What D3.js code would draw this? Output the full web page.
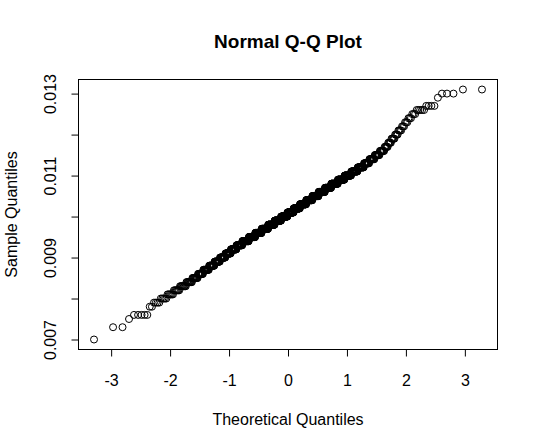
<!DOCTYPE html>
<html>
<head>
<meta charset="utf-8">
<script src="https://cdn.jsdelivr.net/npm/d3@7"></script>
<style>
  body { margin: 0; background: #fff; }
  text { font-family: "Liberation Sans", Arial, Helvetica, sans-serif; fill: #000; }
</style>
</head>
<body>
<svg id="chart" width="538" height="448"></svg>
<script>
// sorted sample values (rounded to 0.0001) and how many observations sit at each
const sampleValues = [
  0.0070, 0.0073, 0.0075, 0.0076, 0.0078, 0.0079, 0.0080, 0.0081, 0.0082, 0.0083,
  0.0084, 0.0085, 0.0086, 0.0087, 0.0088, 0.0089, 0.0090, 0.0091, 0.0092, 0.0093,
  0.0094, 0.0095, 0.0096, 0.0097, 0.0098, 0.0099, 0.0100, 0.0101, 0.0102, 0.0103,
  0.0104, 0.0105, 0.0106, 0.0107, 0.0108, 0.0109, 0.0110, 0.0111, 0.0112, 0.0113,
  0.0114, 0.0115, 0.0116, 0.0117, 0.0118, 0.0119, 0.0120, 0.0121, 0.0122, 0.0123,
  0.0124, 0.0125, 0.0126, 0.0127, 0.0129, 0.0130, 0.0131
];
const sampleCounts = [
  1, 2, 1, 5, 2, 4, 5, 6, 7, 9,
  10, 11, 12, 15, 16, 18, 20, 22, 25, 28,
  34, 36, 38, 41, 42, 43, 43, 42, 42, 41,
  39, 38, 36, 34, 33, 30, 27, 23, 20, 15,
  13, 11, 9, 6, 5, 5, 4, 4, 3, 3,
  3, 3, 5, 4, 1, 3, 2
];

const xTicks = [-3, -2, -1, 0, 1, 2, 3];
const yTicks = [0.007, 0.008, 0.009, 0.010, 0.011, 0.012, 0.013];
const yTickLabels = ["0.007", "", "0.009", "", "0.011", "", "0.013"];

const title = "Normal Q-Q Plot";
const xTitle = "Theoretical Quantiles";
const yTitle = "Sample Quantiles";

// inverse normal cdf (Acklam)
const qnorm = (p) => {
  const a = [-3.969683028665376e1, 2.209460984245205e2, -2.759285104469687e2,
    1.38357751867269e2, -3.066479806614716e1, 2.506628277459239];
  const b = [-5.447609879822406e1, 1.615858368580409e2, -1.556989798598866e2,
    6.680131188771972e1, -1.328068155288572e1];
  const c = [-7.784894002430293e-3, -3.223964580411365e-1, -2.400758277161838,
    -2.549732539343734, 4.374664141464968, 2.938163982698783];
  const d = [7.784695709041462e-3, 3.224671290700398e-1, 2.445134137142996,
    3.754408661907416];
  const plow = 0.02425;
  let q, r;
  if (p < plow) {
    q = Math.sqrt(-2 * Math.log(p));
    return (((((c[0] * q + c[1]) * q + c[2]) * q + c[3]) * q + c[4]) * q + c[5]) /
      ((((d[0] * q + d[1]) * q + d[2]) * q + d[3]) * q + 1);
  }
  if (p > 1 - plow) {
    q = Math.sqrt(-2 * Math.log(1 - p));
    return -(((((c[0] * q + c[1]) * q + c[2]) * q + c[3]) * q + c[4]) * q + c[5]) /
      ((((d[0] * q + d[1]) * q + d[2]) * q + d[3]) * q + 1);
  }
  q = p - 0.5;
  r = q * q;
  return (((((a[0] * r + a[1]) * r + a[2]) * r + a[3]) * r + a[4]) * r + a[5]) * q /
    (((((b[0] * r + b[1]) * r + b[2]) * r + b[3]) * r + b[4]) * r + 1);
};

const sample = [];
sampleValues.forEach((v, i) => {
  for (let k = 0; k < sampleCounts[i]; k++) sample.push(v);
});
const n = sample.length;
const points = sample.map((v, i) => ({ tq: qnorm((i + 1 - 0.5) / n), sq: v }));

// R style 4% padding
const pad = (ext) => {
  const s = (ext[1] - ext[0]) * 0.04;
  return [ext[0] - s, ext[1] + s];
};

const svg = d3.select("#chart");
const plotLeft = 78.5, plotRight = 497.5, plotTop = 79.5, plotBottom = 349.5;

const x = d3.scaleLinear()
  .domain(pad(d3.extent(points, (d) => d.tq)))
  .range([plotLeft, plotRight]);
const y = d3.scaleLinear()
  .domain(pad(d3.extent(points, (d) => d.sq)))
  .range([plotBottom, plotTop]);

svg.append("g")
  .selectAll("circle")
  .data(points)
  .enter()
  .append("circle")
  .attr("cx", (d) => x(d.tq))
  .attr("cy", (d) => y(d.sq))
  .attr("r", 3.5)
  .attr("fill", "none")
  .attr("stroke", "#000")
  .attr("stroke-width", 1);

svg.append("rect")
  .attr("x", plotLeft)
  .attr("y", plotTop)
  .attr("width", plotRight - plotLeft)
  .attr("height", plotBottom - plotTop)
  .attr("fill", "none")
  .attr("stroke", "#000")
  .attr("stroke-width", 1);

const xAxis = svg.append("g")
  .attr("transform", "translate(0," + plotBottom + ")")
  .call(d3.axisBottom(x).tickValues(xTicks).tickSize(7));
xAxis.select(".domain").remove();
xAxis.selectAll("text")
  .attr("y", 36.5)
  .attr("dy", null)
  .attr("font-size", 16)
  .text((d) => d < 0 ? "-" + Math.abs(d) : d);

const yAxis = svg.append("g")
  .attr("transform", "translate(" + plotLeft + ",0)")
  .call(d3.axisLeft(y).tickValues(yTicks).tickSize(7));
yAxis.select(".domain").remove();
yAxis.selectAll("text")
  .attr("x", null)
  .attr("dy", null)
  .attr("text-anchor", "middle")
  .attr("font-size", 16)
  .attr("transform", "translate(-22.5,0) rotate(-90)")
  .text((d, i) => yTickLabels[i]);

svg.selectAll(".tick line").attr("stroke", "#000");

svg.append("text")
  .attr("x", 288)
  .attr("y", 47.5)
  .attr("text-anchor", "middle")
  .attr("font-size", 19)
  .attr("font-weight", "bold")
  .text(title);

svg.append("text")
  .attr("x", 288)
  .attr("y", 424.5)
  .attr("text-anchor", "middle")
  .attr("font-size", 16)
  .text(xTitle);

svg.append("text")
  .attr("transform", "translate(17," + (plotTop + plotBottom) / 2 + ") rotate(-90)")
  .attr("text-anchor", "middle")
  .attr("font-size", 16)
  .text(yTitle);
</script>
</body>
</html>
